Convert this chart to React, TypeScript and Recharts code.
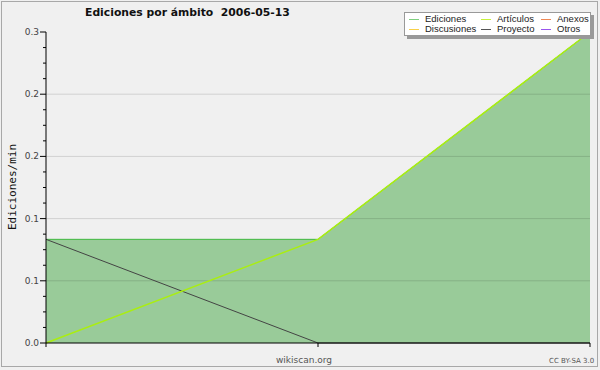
import { ComposedChart, Area, Line, XAxis, YAxis, ReferenceLine } from "recharts";

// puntos de tiempo (sin etiquetas en el eje)
const steps = [0, 1, 2];
const ediciones = [0.1, 0.1, 0.3];
const articulos = [0, 0.1, 0.3];
const proyecto = [0.1, 0, 0];

const yTicks = [
  0, 0.015, 0.03, 0.045, 0.06, 0.075, 0.09, 0.105, 0.12, 0.135, 0.15,
  0.165, 0.18, 0.195, 0.21, 0.225, 0.24, 0.255, 0.27, 0.285, 0.3,
];
const gridValues = [0.06, 0.12, 0.18, 0.24];

const legendItems = [
  { name: "Ediciones", color: "#7fcf7f" },
  { name: "Artículos", color: "#c6f03c" },
  { name: "Anexos", color: "#ee8855" },
  { name: "Discusiones", color: "#f8d048" },
  { name: "Proyecto", color: "#555555" },
  { name: "Otros", color: "#9955ee" },
];

const data = steps.map((t, i) => ({
  t,
  ed: ediciones[i],
  art: articulos[i],
  proy: proyecto[i],
}));

const YTick = (props: any) => {
  const { x, y, payload, index } = props;
  const major = index % 4 === 0;
  return (
    <g>
      <line x1={x - (major ? 6 : 3)} x2={x} y1={y} y2={y} stroke="#000" />
      {major && (
        <text
          x={x - 7}
          y={y + 3}
          textAnchor="end"
          fontSize={9}
          fill="#444"
          fontFamily="DejaVu Sans"
        >
          {payload.value.toFixed(1)}
        </text>
      )}
    </g>
  );
};

const Legend = () => (
  <div
    style={{
      position: "absolute",
      left: 404,
      top: 12,
      width: 185,
      height: 22,
      background: "#fff",
      border: "1px solid #999",
      boxShadow: "3px 3px 0 #999",
      fontFamily: "Liberation Sans",
      fontSize: 9.5,
      color: "#222",
    }}
  >
    {legendItems.map((it, i) => {
      const col = i % 3;
      const row = Math.floor(i / 3);
      const left = [4, 76, 136][col];
      return (
        <div
          key={it.name}
          style={{
            position: "absolute",
            left,
            top: 1 + row * 10,
            display: "flex",
            alignItems: "center",
            whiteSpace: "nowrap",
            lineHeight: "10px",
          }}
        >
          <span
            style={{
              display: "inline-block",
              width: 10,
              height: 1,
              background: it.color,
              marginRight: 6,
            }}
          />
          {it.name}
        </div>
      );
    })}
  </div>
);

export default function App() {
  return (
    <div
      style={{
        position: "absolute",
        left: 0,
        top: 0,
        width: 600,
        height: 370,
        background: "#f0f0f0",
        fontFamily: "DejaVu Sans",
      }}
    >
      <div
        style={{
          position: "absolute",
          left: 1,
          top: 1,
          width: 595,
          height: 364,
          border: "1px solid #a8a8a8",
        }}
      />
      <ComposedChart
        width={600}
        height={370}
        data={data}
        margin={{ top: 32, right: 10, left: 0, bottom: 0 }}
        style={{ position: "absolute", left: 0, top: 0 }}
      >
        <XAxis
          dataKey="t"
          type="number"
          domain={[0, 2]}
          ticks={steps}
          height={27}
          tickSize={4}
          tickFormatter={() => ""}
          stroke="#000"
          tickLine={{ stroke: "#000" }}
        />
        <YAxis
          type="number"
          domain={[0, 0.3]}
          ticks={yTicks}
          interval={0}
          width={46}
          tickSize={0}
          tickMargin={0}
          tickLine={false}
          tick={<YTick />}
          stroke="#000"
        />
        <Area
          type="linear"
          dataKey="ed"
          fill="#99cb99"
          fillOpacity={1}
          stroke="#3fb83f"
          strokeWidth={1}
          isAnimationActive={false}
        />
        {gridValues.map((v) => (
          <ReferenceLine key={v} y={v} stroke="rgba(0,0,0,0.13)" />
        ))}
        <Line
          type="linear"
          dataKey="proy"
          stroke="#444"
          strokeWidth={1}
          dot={false}
          isAnimationActive={false}
        />
        <Line
          type="linear"
          dataKey="art"
          stroke="#aaee11"
          strokeWidth={1.5}
          dot={false}
          isAnimationActive={false}
        />
      </ComposedChart>
      <div
        style={{
          position: "absolute",
          left: 85,
          top: 6,
          fontWeight: "bold",
          fontSize: 10.8,
          whiteSpace: "pre",
          color: "#111",
        }}
      >
        {"Ediciones por ámbito  2006-05-13"}
      </div>
      <div
        style={{
          position: "absolute",
          left: 12,
          top: 187,
          transform: "translate(-50%, -50%) rotate(-90deg)",
          fontFamily: "DejaVu Sans Mono",
          fontSize: 11,
          whiteSpace: "nowrap",
          color: "#111",
        }}
      >
        Ediciones/min
      </div>
      <div
        style={{
          position: "absolute",
          left: 276,
          top: 355,
          fontSize: 9,
          color: "#555",
        }}
      >
        wikiscan.org
      </div>
      <div
        style={{
          position: "absolute",
          left: 549,
          top: 357,
          fontSize: 7,
          color: "#555",
        }}
      >
        CC BY-SA 3.0
      </div>
      <Legend />
    </div>
  );
}
